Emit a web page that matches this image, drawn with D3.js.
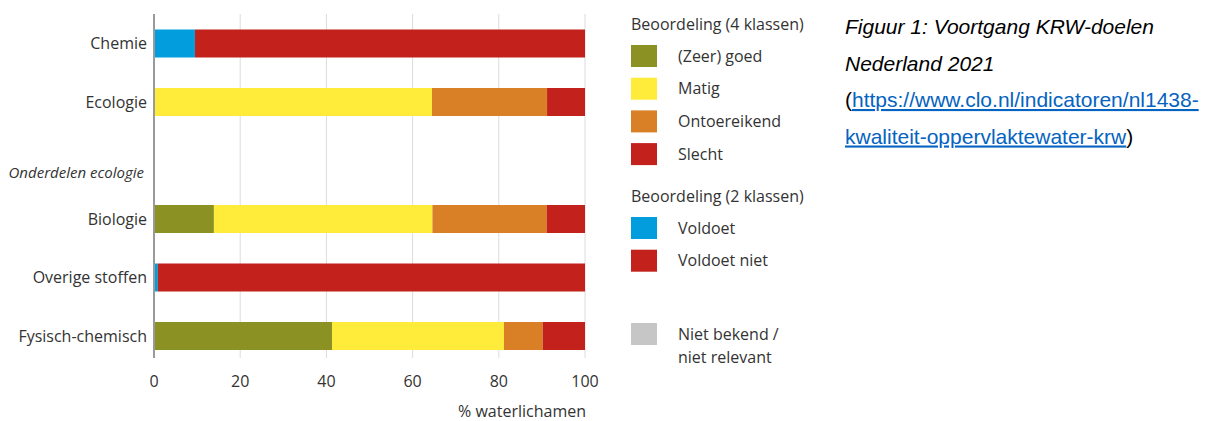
<!DOCTYPE html>
<html>
<head>
<meta charset="utf-8">
<script src="https://cdn.jsdelivr.net/npm/d3@7"></script>
<style>
  body { margin: 0; background: #fff; }
  svg { display: block; }
  .lbl { font-family: "Open Sans", sans-serif; fill: #333; font-size: 16px; }
  .cap { font-family: "Liberation Sans", Arial, sans-serif; font-style: italic; font-size: 21px; fill: #000; }
  .link { font-family: "Liberation Sans", Arial, sans-serif; font-size: 21px; }
</style>
</head>
<body>
<svg id="chart" width="1205" height="421"></svg>
<script>
// rows, top to bottom ("Onderdelen ecologie" is a header row without a bar)
const rows = ['Chemie', 'Ecologie', 'Onderdelen ecologie', 'Biologie', 'Overige stoffen', 'Fysisch-chemisch'];
const headerRow = 'Onderdelen ecologie';

// percentages per class
const goed         = [0,    0,    0, 13.9, 0,    41.3];
const matig        = [0,    64.5, 0, 50.7, 0,    39.9];
const ontoereikend = [0,    26.7, 0, 26.5, 0,    9.0];
const slecht       = [0,    8.8,  0, 8.9,  0,    9.8];
const voldoet      = [9.5,  0,    0, 0,    0.9,  0];
const voldoetNiet  = [90.5, 0,    0, 0,    99.1, 0];

const xTicks = [0, 20, 40, 60, 80, 100];

const keys = ['goed', 'matig', 'ontoereikend', 'slecht', 'voldoet', 'voldoetNiet'];
const colors = {
	goed: '#8b9223',
	matig: '#ffeb3a',
	ontoereikend: '#d98026',
	slecht: '#c3211b',
	voldoet: '#029ddd',
	voldoetNiet: '#c3211b',
	onbekend: '#c6c6c6'
};

const legend4 = [
	{key: 'goed', label: '(Zeer) goed'},
	{key: 'matig', label: 'Matig'},
	{key: 'ontoereikend', label: 'Ontoereikend'},
	{key: 'slecht', label: 'Slecht'}
];
const legend2 = [
	{key: 'voldoet', label: 'Voldoet'},
	{key: 'voldoetNiet', label: 'Voldoet niet'}
];

const tableData = rows.map((r, i) => ({
	row: r,
	goed: goed[i], matig: matig[i], ontoereikend: ontoereikend[i],
	slecht: slecht[i], voldoet: voldoet[i], voldoetNiet: voldoetNiet[i]
}));

const svg = d3.select('#chart');

const x = d3.scaleLinear().domain([0, 100]).range([154, 585]);
const y = d3.scalePoint().domain(rows).range([43.5, 336]);
const barH = 28;

// gridlines
svg.append('g')
	.selectAll('line')
	.data(xTicks.slice(1))
	.enter()
	.append('line')
	.attr('x1', d => x(d)).attr('x2', d => x(d))
	.attr('y1', 14).attr('y2', 358)
	.attr('stroke', '#dcdcdc')
	.attr('stroke-width', 1);

// stacked bars
const series = d3.stack().keys(keys)(tableData);

svg.append('g')
	.selectAll('g')
	.data(series)
	.enter()
	.append('g')
	.attr('fill', d => colors[d.key])
	.selectAll('rect')
	.data(d => d.filter(s => s[1] - s[0] > 0))
	.enter()
	.append('rect')
	.attr('x', d => x(d[0]))
	.attr('width', d => x(d[1]) - x(d[0]))
	.attr('y', d => y(d.data.row) - barH / 2)
	.attr('height', barH);

// vertical axis line
svg.append('line')
	.attr('x1', x(0)).attr('x2', x(0))
	.attr('y1', 14).attr('y2', 358)
	.attr('stroke', '#9a9a9a')
	.attr('stroke-width', 2);

// category labels
svg.append('g')
	.selectAll('text')
	.data(rows)
	.enter()
	.append('text')
	.attr('class', 'lbl')
	.attr('x', d => d === headerRow ? 144 : 147)
	.attr('y', d => d === headerRow ? y(d) + 12 : y(d))
	.attr('dy', '0.35em')
	.attr('text-anchor', 'end')
	.style('font-size', d => d === headerRow ? '15px' : '16px')
	.style('font-style', d => d === headerRow ? 'italic' : 'normal')
	.text(d => d);

// x tick labels
svg.append('g')
	.selectAll('text')
	.data(xTicks)
	.enter()
	.append('text')
	.attr('class', 'lbl')
	.attr('x', d => x(d))
	.attr('y', 381)
	.attr('dy', '0.35em')
	.attr('text-anchor', 'middle')
	.text(d => d);

svg.append('text')
	.attr('class', 'lbl')
	.attr('x', 586)
	.attr('y', 411)
	.attr('dy', '0.35em')
	.attr('text-anchor', 'end')
	.text('% waterlichamen');

// legend
const lg = svg.append('g');
const swW = 26, swH = 22, lgX = 631, txtX = 678;

function legendTitle(txt, yy) {
	lg.append('text')
		.attr('class', 'lbl')
		.attr('x', lgX).attr('y', yy)
		.attr('dy', '0.35em')
		.text(txt);
}

function legendItems(items, y0) {
	const g = lg.append('g')
		.selectAll('g')
		.data(items)
		.enter()
		.append('g')
		.attr('transform', (d, i) => 'translate(0,' + (y0 + i * 32.7) + ')');
	g.append('rect')
		.attr('x', lgX).attr('y', -swH / 2)
		.attr('width', swW).attr('height', swH)
		.attr('fill', d => colors[d.key]);
	g.append('text')
		.attr('class', 'lbl')
		.attr('x', txtX).attr('y', 0)
		.attr('dy', '0.35em')
		.text(d => d.label);
}

legendTitle('Beoordeling (4 klassen)', 24);
legendItems(legend4, 56);
legendTitle('Beoordeling (2 klassen)', 196);
legendItems(legend2, 228);

lg.append('rect')
	.attr('x', lgX).attr('y', 334 - swH / 2)
	.attr('width', swW).attr('height', swH)
	.attr('fill', colors.onbekend);
lg.append('text')
	.attr('class', 'lbl')
	.attr('x', txtX).attr('y', 334)
	.attr('dy', '0.35em')
	.text('Niet bekend /');
lg.append('text')
	.attr('class', 'lbl')
	.attr('x', txtX).attr('y', 357)
	.attr('dy', '0.35em')
	.text('niet relevant');

// caption
const cap = svg.append('g');
cap.append('text').attr('class', 'cap').attr('x', 845).attr('y', 34)
	.text('Figuur 1: Voortgang KRW-doelen');
cap.append('text').attr('class', 'cap').attr('x', 845).attr('y', 70.5)
	.text('Nederland 2021');

const l1 = cap.append('text').attr('class', 'link').attr('x', 845).attr('y', 107);
l1.append('tspan').attr('fill', '#000').text('(');
l1.append('tspan').attr('fill', '#0563c1').attr('text-decoration', 'underline')
	.text('https://www.clo.nl/indicatoren/nl1438-');

const l2 = cap.append('text').attr('class', 'link').attr('x', 845).attr('y', 143.5);
l2.append('tspan').attr('fill', '#0563c1').attr('text-decoration', 'underline')
	.text('kwaliteit-oppervlaktewater-krw');
l2.append('tspan').attr('fill', '#000').text(')');
</script>
</body>
</html>
